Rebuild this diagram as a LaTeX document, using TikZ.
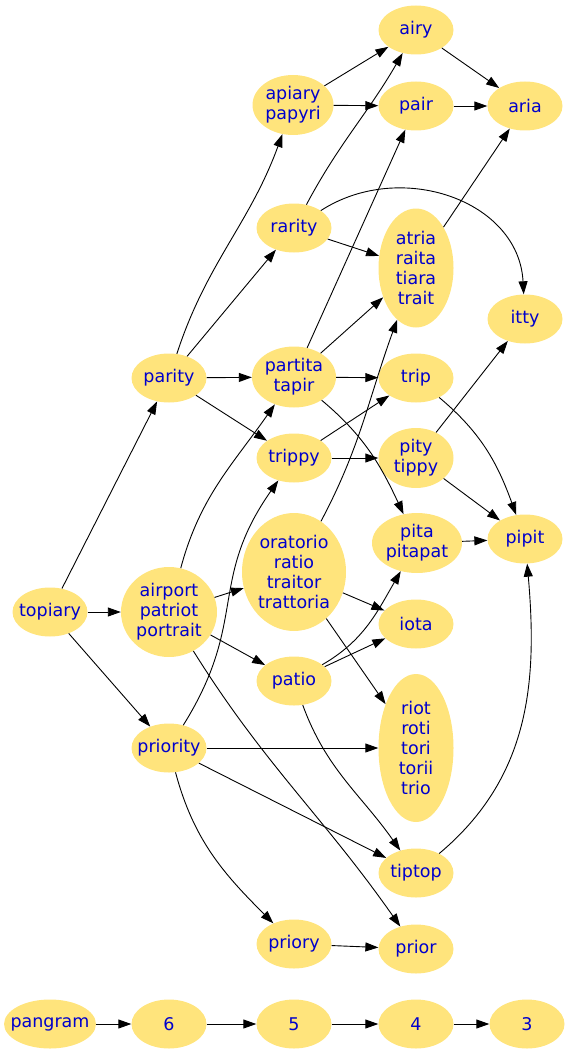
\documentclass[tikz,border=0pt]{standalone}
\usepackage{fontspec}
\setmainfont{DejaVu Sans}
\usepackage{tikz}
\usetikzlibrary{shapes.geometric,arrows.meta}
\usepackage{xcolor}
\definecolor{wordfill}{HTML}{FFE47C}
\definecolor{wordtext}{HTML}{0000CC}

\begin{document}
\begin{tikzpicture}[x=1pt, y=-1pt, >={Triangle[length=13pt,width=9pt]},
    word/.style={ellipse, fill=wordfill, text=wordtext, align=center, inner xsep=-7pt, inner ysep=0pt,
      minimum width=75pt, minimum height=49pt, font=\fontsize{17.5}{20}\selectfont},
    edge/.style={->, line width=0.9pt, black}]
  \useasboundingbox (0,0) rectangle (568,1054);
  % nodes, column by column
  \node[word] (topiary) at (50,612){topiary};
  \node[word] (pangram) at (50,1024){pangram};
  \node[word] (parity) at (169,378){parity};
  \node[word, minimum width=96pt, minimum height=90pt] (airport) at (169,612){airport\\patriot\\portrait};
  \node[word] (priority) at (169,748){priority};
  \node[word] (six) at (169,1024){6};
  \node[word, minimum width=81pt, minimum height=60pt] (apiary) at (293,105){apiary\\papyri};
  \node[word] (rarity) at (294,228){rarity};
  \node[word, minimum width=84pt, minimum height=61pt] (partita) at (294,377){partita\\tapir};
  \node[word] (trippy) at (294,458){trippy};
  \node[word, minimum width=104pt, minimum height=118pt] (oratorio) at (294,572){oratorio\\ratio\\traitor\\trattoria};
  \node[word] (patio) at (294,681){patio};
  \node[word] (priory) at (294,944){priory};
  \node[word] (five) at (294,1024){5};
  \node[word] (airy) at (416,30){airy};
  \node[word] (pair) at (416,106){pair};
  \node[word, minimum height=119pt] (atria) at (416,268){atria\\raita\\tiara\\trait};
  \node[word] (trip) at (416,378){trip};
  \node[word, minimum height=60pt] (pity) at (416,458){pity\\tippy};
  \node[word, minimum width=90pt, minimum height=60pt] (pita) at (417,543){pita\\pitapat};
  \node[word] (iota) at (416,624){iota};
  \node[word, minimum height=148pt] (riot) at (416,748){riot\\roti\\tori\\torii\\trio};
  \node[word] (tiptop) at (416,873){tiptop};
  \node[word] (prior) at (416,949){prior};
  \node[word] (four) at (416,1024){4};
  \node[word] (aria) at (525,106){aria};
  \node[word] (itty) at (525,319){itty};
  \node[word] (pipit) at (525,539){pipit};
  \node[word] (three) at (527,1024){3};
  % edges
  \draw[edge] (topiary) -- (parity);
  \draw[edge] (topiary) -- (airport);
  \draw[edge] (topiary) -- (priority);
  \draw[edge] (parity) to[out=72,in=250] (apiary);
  \draw[edge] (parity) -- (rarity);
  \draw[edge] (parity) -- (partita);
  \draw[edge] (parity) -- (trippy);
  \draw[edge] (airport) to[out=75,in=235] (partita);
  \draw[edge] (airport) -- (oratorio);
  \draw[edge] (airport) -- (patio);
  \draw[edge] (airport) to[out=-58,in=125] (prior);
  \draw[edge] (priority) to[out=58,in=235,looseness=1.2] (trippy);
  \draw[edge] (priority) -- (riot);
  \draw[edge] (priority) -- (tiptop);
  \draw[edge] (priority) to[out=-75,in=135] (priory);
  \draw[edge] (apiary) -- (airy);
  \draw[edge] (apiary) -- (pair);
  \draw[edge] (rarity) to[out=62,in=240] (airy);
  \draw[edge] (rarity) -- (atria);
  \draw[edge] (rarity) to[out=33,in=93,looseness=1.1] (itty);
  \draw[edge] (partita) -- (pair);
  \draw[edge] (partita) -- (atria);
  \draw[edge] (partita) -- (trip);
  \draw[edge] (partita) to[out=-40,in=115] (pita);
  \draw[edge] (trippy) -- (trip);
  \draw[edge] (trippy) -- (pity);
  \draw[edge] (oratorio) to[out=62,in=250] (atria);
  \draw[edge] (oratorio) -- (iota);
  \draw[edge] (oratorio) -- (riot);
  \draw[edge] (patio) to[out=30,in=240] (pita);
  \draw[edge] (patio) -- (iota);
  \draw[edge] (patio) to[out=-70,in=125] (tiptop);
  \draw[edge] (priory) -- (prior);
  \draw[edge] (airy) -- (aria);
  \draw[edge] (pair) -- (aria);
  \draw[edge] (atria) -- (aria);
  \draw[edge] (trip) to[out=-40,in=110] (pipit);
  \draw[edge] (pity) -- (itty);
  \draw[edge] (pity) -- (pipit);
  \draw[edge] (pita) -- (pipit);
  \draw[edge] (tiptop) to[out=40,in=-85] (pipit);
  \draw[edge] (pangram) -- (six);
  \draw[edge] (six) -- (five);
  \draw[edge] (five) -- (four);
  \draw[edge] (four) -- (three);
\end{tikzpicture}
\end{document}
